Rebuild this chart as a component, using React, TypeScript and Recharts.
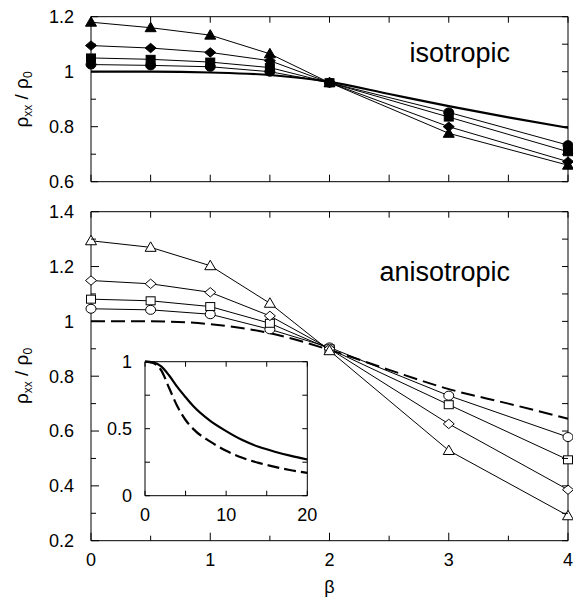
import React from 'react';
import { LineChart, Line, XAxis, YAxis } from 'recharts';

// ---------- data ----------
const betaMarkers = [0, 0.5, 1, 1.5, 2, 3, 4];
const isoTriangle = [1.18, 1.16, 1.133, 1.065, 0.96, 0.776, 0.66];
const isoDiamond = [1.095, 1.086, 1.07, 1.04, 0.96, 0.8, 0.673];
const isoSquare = [1.05, 1.045, 1.035, 1.015, 0.96, 0.835, 0.709];
const isoCircle = [1.026, 1.023, 1.018, 1.0, 0.96, 0.852, 0.733];

const betaCurve = [0, 0.5, 1, 1.5, 2, 2.5, 3, 3.5, 4];
const isoLimit = [1.0, 1.0, 0.997, 0.988, 0.963, 0.919, 0.875, 0.834, 0.796];
const anisoLimit = [1.0, 1.0, 0.99, 0.957, 0.896, 0.823, 0.753, 0.7, 0.645];

const anisoTriangle = [1.294, 1.27, 1.203, 1.066, 0.893, 0.529, 0.291];
const anisoDiamond = [1.149, 1.137, 1.106, 1.02, 0.9, 0.626, 0.386];
const anisoSquare = [1.081, 1.075, 1.054, 0.993, 0.9, 0.696, 0.495];
const anisoCircle = [1.046, 1.042, 1.026, 0.971, 0.905, 0.729, 0.578];

const insetX = [0, 1, 2, 3, 4, 5, 6, 8, 10, 12, 14, 16, 18, 20];
const insetSolid = [1.0, 0.995, 0.965, 0.895, 0.81, 0.735, 0.665, 0.56, 0.482, 0.415, 0.365, 0.328, 0.297, 0.27];
const insetDashed = [1.0, 0.99, 0.935, 0.8, 0.665, 0.565, 0.495, 0.405, 0.335, 0.283, 0.245, 0.215, 0.19, 0.17];

const betaTicks = [0, 0.5, 1, 1.5, 2, 2.5, 3, 3.5, 4];
const isoYTicks = [0.6, 0.7, 0.8, 0.9, 1, 1.1, 1.2];
const anisoYTicks = [0.2, 0.3, 0.4, 0.5, 0.6, 0.7, 0.8, 0.9, 1, 1.1, 1.2, 1.3, 1.4];
const insetXTicks = [0, 5, 10, 15, 20];
const insetYTicks = [0, 0.25, 0.5, 0.75, 1];

const panelTitles = ['isotropic', 'anisotropic'];

// ---------- helpers ----------
const FONT = '"Liberation Sans", Arial, Helvetica, sans-serif';
const pts = (xs: number[], ys: number[]) => xs.map((x, i) => ({ x, y: ys[i] }));
const near = (a: number, b: number) => Math.abs(a - b) < 1e-6;
const fmt = (v: number) => String(parseFloat(v.toFixed(2)));

type Orient = 'bottom' | 'top' | 'left' | 'right';
function makeTick(orient: Orient, isMajor: (v: number) => boolean, label: boolean, majorLen: number, minorLen: number, gap = 17) {
  return (props: any) => {
    const { x, y, payload, index } = props;
    const v = payload.value as number;
    const maj = isMajor(v);
    const len = maj ? majorLen : minorLen;
    let x2 = x, y2 = y, tx = x, ty = y;
    let anchor: any = 'middle';
    if (orient === 'bottom') { y2 = y - len; ty = y + 25.5; }
    else if (orient === 'top') { y2 = y + len; }
    else if (orient === 'left') { x2 = x + len; tx = x - gap; ty = y + 6.3; anchor = 'end'; }
    else { x2 = x - len; }
    return (
      <g key={`tk-${orient}-${index}`}>
        <line x1={x} y1={y} x2={x2} y2={y2} stroke="#000" strokeWidth={1} />
        {label && maj ? (
          <text x={tx} y={ty} textAnchor={anchor} fontSize={18} fontFamily={FONT} fill="#000">{fmt(v)}</text>
        ) : null}
      </g>
    );
  };
}

function makeDot(shape: string, filled: boolean) {
  return (props: any) => {
    const { cx, cy, index } = props;
    const k = `d-${shape}-${filled ? 'f' : 'o'}-${index}`;
    if (cx == null || cy == null) return <g key={k} />;
    const c = { fill: filled ? '#000' : '#fff', stroke: '#000', strokeWidth: 1 };
    if (shape === 'triangle')
      return <polygon key={k} {...c} points={`${cx},${cy - 5.5} ${cx + 5.5},${cy + 4} ${cx - 5.5},${cy + 4}`} />;
    if (shape === 'diamond')
      return <polygon key={k} {...c} points={`${cx},${cy - 4.7} ${cx + 5.5},${cy} ${cx},${cy + 4.7} ${cx - 5.5},${cy}`} />;
    if (shape === 'square')
      return <rect key={k} {...c} x={cx - 4.5} y={cy - 4} width={9} height={8} />;
    return <ellipse key={k} {...c} cx={cx} cy={cy} rx={5} ry={4.5} />;
  };
}

const YTitle = ({ cx, cy }: { cx: number; cy: number }) => (
  <text x={cx} y={cy} transform={`rotate(-90, ${cx}, ${cy})`} textAnchor="middle" fontSize={19} fontFamily={FONT} fill="#000">
    ρ<tspan dy={4} fontSize={12}>xx</tspan>
    <tspan dy={-4}> / ρ</tspan>
    <tspan dy={4} fontSize={12}>0</tspan>
  </text>
);

const majBeta = (v: number) => near(v, Math.round(v));
const majFifth = (v: number) => near(v * 5, Math.round(v * 5));
const allMajor = (_v: number) => true;

const axisLine = { stroke: '#000', strokeWidth: 1 };

export default function App() {
  return (
    <div style={{ position: 'absolute', left: 0, top: 0, width: 573, height: 599, background: '#fff' }}>
      {/* top panel: isotropic */}
      <div style={{ position: 'absolute', left: 0, top: 0 }}>
        <LineChart width={573} height={200} margin={{ top: 15.7, right: 4, bottom: 17.3, left: 0 }}>
          <XAxis xAxisId="b" type="number" dataKey="x" domain={[0, 4]} ticks={betaTicks} interval={0} orientation="bottom" height={1}
            tickSize={0} tickMargin={0} tickLine={false} axisLine={axisLine} tick={makeTick('bottom', majBeta, false, 7, 7)} />
          <XAxis xAxisId="t" type="number" dataKey="x" domain={[0, 4]} ticks={betaTicks} interval={0} orientation="top" height={1}
            tickSize={0} tickMargin={0} tickLine={false} axisLine={axisLine} tick={makeTick('top', majBeta, false, 6, 6)} />
          <YAxis yAxisId="l" type="number" domain={[0.6, 1.2]} ticks={isoYTicks} interval={0} orientation="left" width={91}
            tickSize={0} tickMargin={0} tickLine={false} axisLine={axisLine} tick={makeTick('left', majFifth, true, 7, 5)}
            label={() => <YTitle cx={28} cy={99.5} />} />
          <YAxis yAxisId="r" type="number" domain={[0.6, 1.2]} ticks={isoYTicks} interval={0} orientation="right" width={1}
            tickSize={0} tickMargin={0} tickLine={false} axisLine={axisLine} tick={makeTick('right', majFifth, false, 6, 6)} />
          <Line xAxisId="t" yAxisId="r" data={pts(betaCurve, isoLimit)} dataKey="y" stroke="none" dot={false} isAnimationActive={false} />
          <Line xAxisId="b" yAxisId="l" data={pts(betaCurve, isoLimit)} dataKey="y" type="monotone" stroke="#000" strokeWidth={2.2} dot={false} isAnimationActive={false} />
          <Line xAxisId="b" yAxisId="l" data={pts(betaMarkers, isoCircle)} dataKey="y" stroke="#000" strokeWidth={1} dot={makeDot('circle', true)} isAnimationActive={false} />
          <Line xAxisId="b" yAxisId="l" data={pts(betaMarkers, isoSquare)} dataKey="y" stroke="#000" strokeWidth={1} dot={makeDot('square', true)} isAnimationActive={false} />
          <Line xAxisId="b" yAxisId="l" data={pts(betaMarkers, isoDiamond)} dataKey="y" stroke="#000" strokeWidth={1} dot={makeDot('diamond', true)} isAnimationActive={false} />
          <Line xAxisId="b" yAxisId="l" data={pts(betaMarkers, isoTriangle)} dataKey="y" stroke="#000" strokeWidth={1} dot={makeDot('triangle', true)} isAnimationActive={false} />
        </LineChart>
      </div>

      {/* bottom panel: anisotropic */}
      <div style={{ position: 'absolute', left: 0, top: 190 }}>
        <LineChart width={573} height={409} margin={{ top: 20.7, right: 4, bottom: 0, left: 0 }}>
          <XAxis xAxisId="b" type="number" dataKey="x" domain={[0, 4]} ticks={betaTicks} interval={0} orientation="bottom" height={58.3}
            tickSize={0} tickMargin={0} tickLine={false} axisLine={axisLine} tick={makeTick('bottom', majBeta, true, 8, 5)}
            label={() => <text x={329.5} y={403} textAnchor="middle" fontSize={18} fontFamily={FONT} fill="#000">β</text>} />
          <XAxis xAxisId="t" type="number" dataKey="x" domain={[0, 4]} ticks={betaTicks} interval={0} orientation="top" height={1}
            tickSize={0} tickMargin={0} tickLine={false} axisLine={axisLine} tick={makeTick('top', majBeta, false, 6, 6)} />
          <YAxis yAxisId="l" type="number" domain={[0.2, 1.4]} ticks={anisoYTicks} interval={0} orientation="left" width={91}
            tickSize={0} tickMargin={0} tickLine={false} axisLine={axisLine} tick={makeTick('left', majFifth, true, 8, 5)}
            label={() => <YTitle cx={28} cy={186} />} />
          <YAxis yAxisId="r" type="number" domain={[0.2, 1.4]} ticks={anisoYTicks} interval={0} orientation="right" width={1}
            tickSize={0} tickMargin={0} tickLine={false} axisLine={axisLine} tick={makeTick('right', majFifth, false, 6, 6)} />
          <Line xAxisId="t" yAxisId="r" data={pts(betaCurve, anisoLimit)} dataKey="y" stroke="none" dot={false} isAnimationActive={false} />
          <Line xAxisId="b" yAxisId="l" data={pts(betaCurve, anisoLimit)} dataKey="y" type="monotone" stroke="#000" strokeWidth={2} strokeDasharray="14 6" dot={false} isAnimationActive={false} />
          <Line xAxisId="b" yAxisId="l" data={pts(betaMarkers, anisoCircle)} dataKey="y" stroke="#000" strokeWidth={1} dot={makeDot('circle', false)} isAnimationActive={false} />
          <Line xAxisId="b" yAxisId="l" data={pts(betaMarkers, anisoSquare)} dataKey="y" stroke="#000" strokeWidth={1} dot={makeDot('square', false)} isAnimationActive={false} />
          <Line xAxisId="b" yAxisId="l" data={pts(betaMarkers, anisoDiamond)} dataKey="y" stroke="#000" strokeWidth={1} dot={makeDot('diamond', false)} isAnimationActive={false} />
          <Line xAxisId="b" yAxisId="l" data={pts(betaMarkers, anisoTriangle)} dataKey="y" stroke="#000" strokeWidth={1} dot={makeDot('triangle', false)} isAnimationActive={false} />
        </LineChart>
      </div>

      {/* inset */}
      <div style={{ position: 'absolute', left: 100, top: 350 }}>
        <LineChart width={235} height={180} margin={{ top: 10.7, right: 26.7, bottom: 0, left: 0 }}>
          <XAxis xAxisId="b" type="number" dataKey="x" domain={[0, 20]} ticks={insetXTicks} interval={0} orientation="bottom" height={34.3}
            tickSize={0} tickMargin={0} tickLine={false} axisLine={axisLine} tick={makeTick('bottom', (v) => near(v % 10, 0), true, 5, 5)} />
          <XAxis xAxisId="t" type="number" dataKey="x" domain={[0, 20]} ticks={insetXTicks} interval={0} orientation="top" height={1}
            tickSize={0} tickMargin={0} tickLine={false} axisLine={axisLine} tick={makeTick('top', allMajor, false, 5, 5)} />
          <YAxis yAxisId="l" type="number" domain={[0, 1]} ticks={insetYTicks} interval={0} orientation="left" width={45}
            tickSize={0} tickMargin={0} tickLine={false} axisLine={axisLine} tick={makeTick('left', (v) => near(v * 2, Math.round(v * 2)), true, 5, 5, 13)} />
          <YAxis yAxisId="r" type="number" domain={[0, 1]} ticks={insetYTicks} interval={0} orientation="right" width={1}
            tickSize={0} tickMargin={0} tickLine={false} axisLine={axisLine} tick={makeTick('right', allMajor, false, 5, 5)} />
          <Line xAxisId="t" yAxisId="r" data={pts(insetX, insetSolid)} dataKey="y" stroke="none" dot={false} isAnimationActive={false} />
          <Line xAxisId="b" yAxisId="l" data={pts(insetX, insetSolid)} dataKey="y" type="monotone" stroke="#000" strokeWidth={2.2} dot={false} isAnimationActive={false} />
          <Line xAxisId="b" yAxisId="l" data={pts(insetX, insetDashed)} dataKey="y" type="monotone" stroke="#000" strokeWidth={2.2} strokeDasharray="12 5" dot={false} isAnimationActive={false} />
        </LineChart>
      </div>

      {/* panel titles */}
      <svg width={573} height={599} style={{ position: 'absolute', left: 0, top: 0, pointerEvents: 'none' }}>
        <text x={510} y={61.5} textAnchor="end" fontSize={27} fontFamily={FONT} fill="#000">{panelTitles[0]}</text>
        <text x={510} y={281} textAnchor="end" fontSize={27} fontFamily={FONT} fill="#000">{panelTitles[1]}</text>
      </svg>
    </div>
  );
}
